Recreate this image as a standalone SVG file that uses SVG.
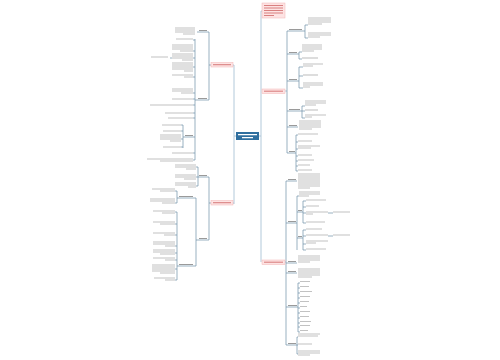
<svg xmlns="http://www.w3.org/2000/svg" width="500" height="360" viewBox="0 0 500 360">
<style>
.trunk{fill:none;stroke:#a9c3d6;stroke-width:0.9}
.c{fill:none;stroke:#6f8fa8;stroke-width:0.7}
.t{fill:none;stroke:#c2c2c2;stroke-width:1.1}
.tl{fill:none;stroke:#9a9a9a;stroke-width:1}
.tr{fill:none;stroke:#d98080;stroke-width:1.1}
.tw{fill:none;stroke:#ffffff;stroke-width:1.2}
.pk{fill:#fde3e3;stroke:#f2b4b4;stroke-width:0.5}
.ctr{fill:#2f6f9f}
</style>
<rect width="500" height="360" fill="#ffffff"/>
<g id="connectors">
<path class="trunk" d="M236 136H234M234 65V204M259 136H261M261 11V262M261 11H262M233 65H234M233 203H234M285 91H287M285 262H286"/>
<path class="c" d="M287 31V153M287 31H305M305 25V38M305 25H308M305 38H308M287 54H299M299 52V59M299 52H302M299 59H302M287 81H299M299 67V88M299 67H303M299 76H303M299 88H303M287 111H302M302 106V118M302 106H305M302 111H305M302 118H305M287 127H298M287 153H296M296 135V171M296 135H298M296 142H298M296 149H298M296 156H298M296 161H298M296 166H298M296 171H298"/>
<path class="c" d="M286 181V345M286 181H297M286 223H297M297 196V250M297 196H299M297 212H303M303 201V223M303 201H306M303 207H306M303 213H306M303 223H306M328 213H333M297 238H303M303 230V250M303 230H306M303 236H306M303 244H306M303 250H306M328 236H333M286 263H297M286 273H297M286 307H298M298 283V332M298 283H300M298 288H300M298 293H300M298 298H300M298 303H300M298 308H300M298 313H300M298 318H300M298 323H300M298 327H300M298 332H300M286 345H297M297 337V354M297 337H298M297 345H298M297 354H298"/>
<path class="c" d="M211 65H209M209 32V100M209 32H197M209 100H195M195 39V160M195 40H193M195 51H193M195 58H193M195 67H193M195 77H193M195 93H193M195 99H193M195 105H193M195 113H193M195 118H193M195 153H193M195 160H193M170 58H172M195 137H183M183 125V148M183 125H181M183 131H181M183 139H181M183 147H181"/>
<path class="c" d="M211 203H209M209 177V240M209 177H198M198 167V186M198 167H196M198 177H196M198 186H196M209 240H196M196 198V266M196 198H177M177 191V203M177 191H175M177 203H175M196 266H177M177 212V280M177 212H175M177 224H175M177 235H175M177 246H175M177 253H175M177 260H175M177 269H175M177 280H175"/>
</g>
<g id="center"><rect class="ctr" x="236" y="132" width="23" height="8"/><path class="tw" d="M238 134.6H257M242 137.6H253"/></g>
<g id="top-note"><rect class="pk" x="262" y="3" width="23" height="15"/><path class="tr" d="M264 5.5H283M264 8H283M264 10.5H283M264 13H283M264 15.5H274"/></g>
<g id="r-main1"><rect class="pk" x="262" y="89" width="23" height="4.5"/><path class="tr" d="M264 91.2H283"/></g>
<g id="r-main2"><rect class="pk" x="262" y="260" width="23" height="4.5"/><path class="tr" d="M264 262.2H283"/></g>
<g id="l-main1"><rect class="pk" x="211" y="62.5" width="22" height="4.5"/><path class="tr" d="M213 64.7H231"/></g>
<g id="l-main2"><rect class="pk" x="211" y="200.5" width="22" height="4.5"/><path class="tr" d="M213 202.7H231"/></g>
<g id="r1-c1"><path class="tl" d="M289 29.5H302"/></g>
<g id="r1-c1-a"><path class="t" d="M308 18H331M308 20H331M308 22H331M308 24H322"/></g>
<g id="r1-c1-b"><path class="t" d="M308 33H331M308 35H331M308 37H320"/></g>
<g id="r1-c2"><path class="tl" d="M289 52.5H297"/></g>
<g id="r1-c2-a"><path class="t" d="M302 45H322M302 47H322M302 49H322M302 51H314"/></g>
<g id="r1-c2-b"><path class="t" d="M302 58H318"/></g>
<g id="r1-c3"><path class="tl" d="M289 79.5H297"/></g>
<g id="r1-c3-a"><path class="t" d="M303 64H323M303 66H313"/></g>
<g id="r1-c3-b"><path class="t" d="M303 75H318"/></g>
<g id="r1-c3-c"><path class="t" d="M303 83H323M303 85H323M303 87H310"/></g>
<g id="r1-c4"><path class="tl" d="M289 109.5H300"/></g>
<g id="r1-c4-a"><path class="t" d="M305 101H326M305 103H326M305 105H316"/></g>
<g id="r1-c4-b"><path class="t" d="M305 110H318"/></g>
<g id="r1-c4-c"><path class="t" d="M305 115H326M305 117H312"/></g>
<g id="r1-c5"><path class="tl" d="M289 125.5H297"/><path class="t" d="M299 121H321M299 123H321M299 125H321M299 127H321M299 129H312"/></g>
<g id="r1-c6"><path class="tl" d="M289 151.5H295"/><path class="t" d="M298 134H318M298 141H312M298 146H320M298 148H311M298 155H312M298 160H314M298 165H310M298 170H312"/></g>
<g id="r2-d1"><path class="tl" d="M288 179.5H296"/><path class="t" d="M298 174H320M298 176H320M298 178H320M298 180H320M298 182H320M298 184H320M298 186H320M298 188H310"/></g>
<g id="r2-d2"><path class="tl" d="M288 221.5H296"/><path class="t" d="M299 192H320M299 194H320M299 196H309"/></g>
<g id="r2-d2-e1"><path class="tl" d="M298 210.5H302"/><path class="t" d="M306 200H326M306 206H319M306 212H328M306 214H313M306 222H325M333 212H350"/></g>
<g id="r2-d2-e2"><path class="tl" d="M298 236.5H302"/><path class="t" d="M306 229H322M306 235H328M333 235H350M306 241H328M306 243H316M306 249H326"/></g>
<g id="r2-d3"><path class="tl" d="M288 261.5H296"/><path class="t" d="M298 256H320M298 258H320M298 260H320M298 262H310"/></g>
<g id="r2-d4"><path class="tl" d="M288 271.5H296"/><path class="t" d="M298 269H320M298 271H320M298 273H320M298 275H320M298 277H312"/></g>
<g id="r2-d5"><path class="tl" d="M288 305.5H297"/><path class="t" d="M300 281.5H310M300 286.5H309M300 291.5H312M300 296.5H310M300 301.5H309M300 306.5H307M300 311.5H310M300 316.5H309M300 321.5H311M300 325.5H310M300 330.5H308"/></g>
<g id="r2-d6"><path class="tl" d="M288 343.5H296"/><path class="t" d="M298 334H320M298 336H318M298 344H312M298 351H320M298 353H320M298 355H310"/></g>
<g id="l1-f1"><path class="tl" d="M199 30.5H207"/><path class="t" d="M175 28H195M175 30H195M175 32H195M183 34H195"/></g>
<g id="l1-f2"><path class="tl" d="M198 98.5H207"/></g>
<g id="l1-f2-leaves"><path class="t" d="M176 39H193M172 45H193M172 47H193M172 49H193M180 51H193M172 54H193M172 56H193M172 58H193M182 60H193M151 57H168M172 63H193M172 65H193M172 67H193M172 69H193M184 71H193M172 75H193M184 77H193M172 89H193M172 91H193M181 93H193M172 99H193M150 105H193M165 113H193M168 118H193M172 153H193M147 159H193M160 161H193"/></g>
<g id="l1-f2-g"><path class="tl" d="M185 135.5H193"/><path class="t" d="M162 125H181M163 131H181M160 135H181M160 137H181M160 139H181M170 141H181M163 147H181"/></g>
<g id="l2-h1"><path class="tl" d="M199 175.5H207"/><path class="t" d="M175 165H196M175 167H196M186 169H196M175 175H196M175 177H196M184 179H196M175 183H196M175 185H196M188 187H196"/></g>
<g id="l2-h2"><path class="tl" d="M199 238.5H207"/></g>
<g id="l2-h2-i1"><path class="tl" d="M179 196.5H193"/><path class="t" d="M152 189H175M160 191H175M150 199H175M150 201H175M162 203H175"/></g>
<g id="l2-h2-i2"><path class="tl" d="M179 264.5H193"/><path class="t" d="M153 211H175M162 213H175M153 222H175M160 224H175M153 233H175M164 235H175M153 242H175M153 244H175M165 246H175M153 250H175M153 252H175M160 254H175M153 258H175M165 260H175M152 265H175M152 267H175M152 269H175M152 271H175M160 273H175M154 278H175M165 280H175"/></g>
</svg>
